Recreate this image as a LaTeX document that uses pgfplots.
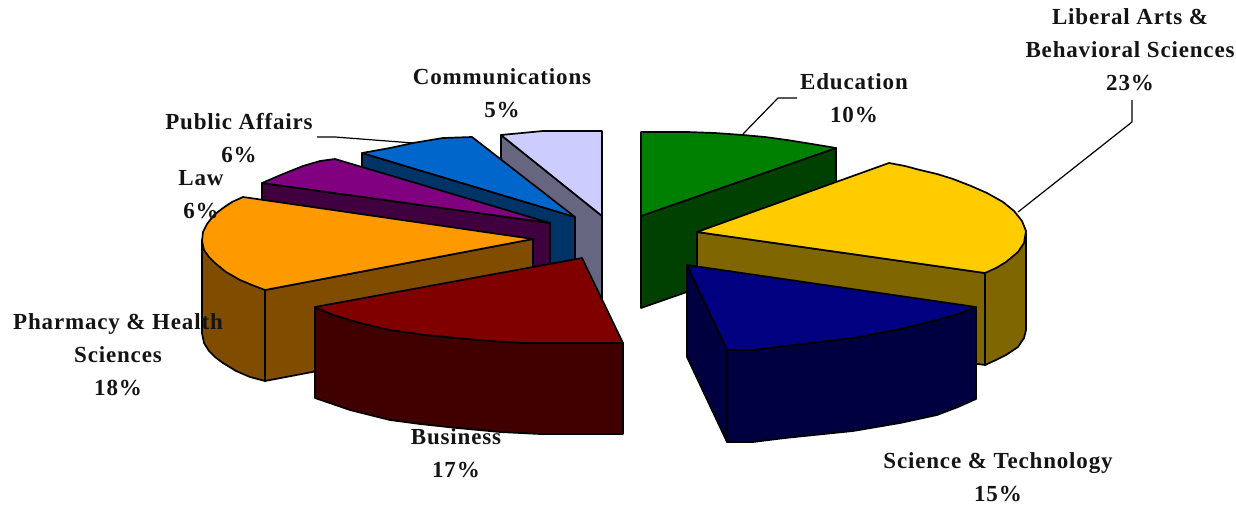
\documentclass[border=0pt]{standalone}
\usepackage{pgfplots}
\pgfplotsset{compat=1.18}
\usepackage{fontspec}
\setmainfont[LetterSpace=3.6]{Liberation Serif}
\definecolor{ct}{HTML}{CCCCFF}\definecolor{cs}{HTML}{666680}
\definecolor{bt}{HTML}{0066CC}\definecolor{bs}{HTML}{003366}
\definecolor{pt}{HTML}{800080}\definecolor{ps}{HTML}{400040}
\definecolor{ot}{HTML}{FF9900}\definecolor{os}{HTML}{804C00}
\definecolor{rt}{HTML}{800000}\definecolor{rs}{HTML}{400000}
\definecolor{nt}{HTML}{000080}\definecolor{ns}{HTML}{000040}
\definecolor{yt}{HTML}{FFCC00}\definecolor{ys}{HTML}{806600}
\definecolor{gt}{HTML}{008000}\definecolor{gs}{HTML}{004000}
\tikzset{lab/.style={font=\fontsize{23}{33}\selectfont\bfseries,align=center,inner sep=0pt,text=black!92}}
\begin{document}
\begin{tikzpicture}
\path[use as bounding box] (0,0) rectangle (1236pt,508pt);
\begin{axis}[at={(0,0)},anchor=south west,scale only axis,width=1236pt,height=508pt,xmin=0,xmax=1236,ymin=0,ymax=508,y dir=reverse,hide axis,clip=false,
  every axis plot/.append style={draw=black,line width=1.7pt,line join=round,mark=none}]
% Communications
\addplot[fill=cs] coordinates {(501,135)(602,216)(602,307)(501,226)} --cycle;
\addplot[fill=ct] coordinates {(501,135)(522,133)(543,131)(602,131)(602,216)} --cycle;
% Public Affairs
\addplot[fill=bs] coordinates {(362,153)(575,217)(575,308)(362,244)} --cycle;
\addplot[fill=bt] coordinates {(362,153)(390,148)(413,143)(443,138)(472,137)(575,217)} --cycle;
% Law
\addplot[fill=ps] coordinates {(262,183)(550,223)(550,314)(262,274)} --cycle;
\addplot[fill=pt] coordinates {(262,183)(283,174)(303,166)(320,161)(335,159)(550,223)} --cycle;
% Pharmacy
\addplot[fill=os] coordinates {(202,240)(202,333)(204,343)(209,351)(215,357)(223,363)(236,371)(250,377)(265,381)(265,290)} --cycle;
\addplot[fill=os] coordinates {(265,290)(533,239)(533,330)(265,381)} --cycle;
\addplot[fill=ot] coordinates {(243,197)(232,202)(223,208)(214,215)(207,224)(203,232)(202,241)(204,250)(209,257)(215,263)(226,272)(240,280)(252,285)(265,290)(533,239)} --cycle;
% Green
\addplot[fill=gs] coordinates {(641,216)(836,148)(836,240)(641,308)} --cycle;
\addplot[fill=gt] coordinates {(641,132)(687,132)(715,133)(743,135)(765,137)(787,140)(812,144)(836,148)(641,216)} --cycle;
% Business
\addplot[fill=rs] coordinates {(315,307)(333,315)(360,323)(390,330)(425,335)(457,338)(490,341)(523,343)(623,343)(623,434)(540,434)(500,432)(457,428)(420,424)(390,420)(350,410)(315,398)} --cycle;
\addplot[fill=rt] coordinates {(582,258)(315,307)(333,315)(360,323)(390,330)(425,335)(457,338)(490,341)(523,343)(623,343)} --cycle;
% Liberal Arts
\addplot[fill=ys] coordinates {(697,232)(985,273)(985,365)(697,324)} --cycle;
\addplot[fill=ys] coordinates {(1026,233)(1026,330)(1024,338)(1018,347)(1006,355)(996,360)(985,365)(985,273)} --cycle;
\addplot[fill=yt] coordinates {(697,232)(889,163)(905,166)(920,170)(937,174)(953,179)(971,186)(987,193)(1003,202)(1014,211)(1022,221)(1026,231)(1024,243)(1018,252)(1006,262)(996,268)(985,273)} --cycle;
% Science
\addplot[fill=ns] coordinates {(687,265)(727,350)(727,442)(687,357)} --cycle;
\addplot[fill=ns] coordinates {(727,350)(753,350)(785,346)(853,338)(900,329)(937,320)(958,314)(976,307)(976,399)(958,407)(937,415)(900,423)(853,431)(785,438)(753,442)(727,442)} --cycle;
\addplot[fill=nt] coordinates {(687,265)(976,307)(958,314)(937,320)(900,329)(853,338)(785,346)(753,350)(727,350)} --cycle;
% Leader lines
\addplot[line width=1.2pt] coordinates {(743,134)(778,98)(797,98)};
\addplot[line width=1.2pt] coordinates {(1018,212)(1132,122)(1132,100)};
\addplot[line width=1.2pt] coordinates {(317,137)(335,137)(413,143)};
% Labels
\node[lab] at (axis cs:1130,50) {Liberal Arts \&\\Behavioral Sciences\\23\%};
\node[lab] at (axis cs:854,98) {Education\\10\%};
\node[lab] at (axis cs:502,93) {Communications\\5\%};
\node[lab] at (axis cs:239,138) {Public Affairs\\6\%};
\node[lab] at (axis cs:201,195) {Law\\6\%};
\node[lab] at (axis cs:118,355) {Pharmacy \& Health\\Sciences\\18\%};
\node[lab] at (axis cs:456,453) {Business\\17\%};
\node[lab] at (axis cs:998,477) {Science \& Technology\\15\%};
\end{axis}
\end{tikzpicture}
\end{document}
